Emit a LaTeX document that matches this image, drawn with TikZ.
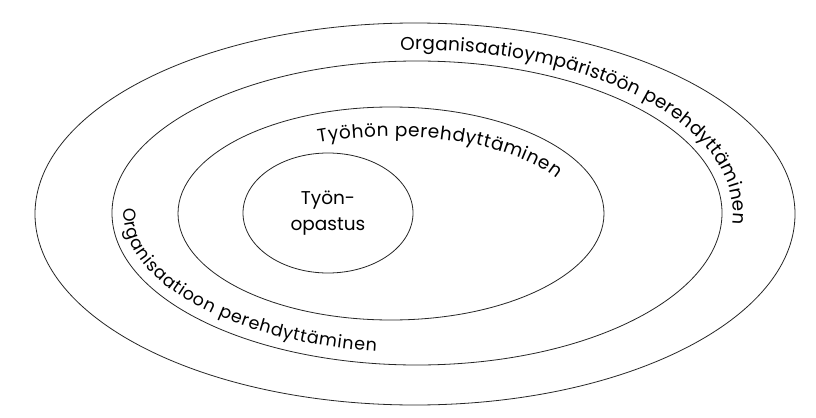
\documentclass[tikz,border=0pt]{standalone}
\usepackage{fontspec}
\setmainfont{Poppins}
\usetikzlibrary{shapes.geometric,decorations.text,calc}
\begin{document}
\begin{tikzpicture}[x=1bp,y=1bp,
  ring/.style={draw=black!85, line width=0.8bp, ellipse, inner sep=0pt},
  lbl/.style={decorate, decoration={text along path, text align={fit to path}, text={#1}}}]
\fill[white] (0,0) rectangle (816,417);
\useasboundingbox (0,0) rectangle (816,417);
\node[ring, minimum width=760bp, minimum height=382bp] (outer) at (415,203) {};
\node[ring, minimum width=610bp, minimum height=304bp] (org) at (417,204) {};
\node[ring, minimum width=426bp, minimum height=213bp] (work) at (391,203.5) {};
\node[ring, minimum width=170bp, minimum height=120bp, align=center, font=\fontsize{18.5bp}{26bp}\selectfont] (guide) at (328,204) {Työn-\\opastus};
\coordinate (c1) at (417,204);
\coordinate (c2) at (391,203.5);
\path[lbl={|\fontsize{18.5bp}{20bp}\selectfont|Organisaatioympäristöön perehdyttäminen}] ($(c1)+(93:316bp and 163bp)$) arc[start angle=93, end angle=-4, x radius=316bp, y radius=163bp];
\path[lbl={|\fontsize{18.5bp}{20bp}\selectfont|Työhön perehdyttäminen}] ($(c2)+(113:186bp and 77bp)$) arc[start angle=113, end angle=27, x radius=186bp, y radius=77bp];
\path[lbl={|\fontsize{17.5bp}{20bp}\selectfont|Organisaatioon perehdyttäminen}] ($(c1)+(178:293bp and 140bp)$) arc[start angle=178, end angle=262, x radius=293bp, y radius=140bp];
\end{tikzpicture}
\end{document}
